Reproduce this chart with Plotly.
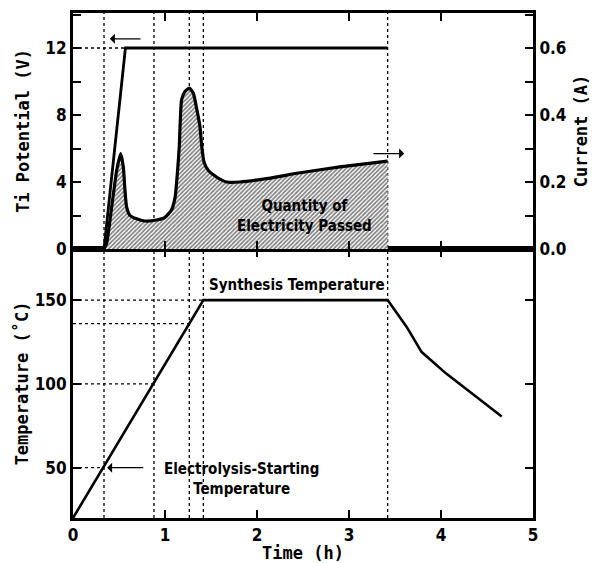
import plotly.graph_objects as go

# Ti electrode potential (V) vs time (h)
pot_time = [0.0, 0.337, 0.57, 3.42]
pot_volt = [0.0, 0.0, 12.0, 12.0]

# Electrolysis current (A) vs time (h)
cur_time = [0.337, 0.366, 0.42, 0.475, 0.518, 0.547, 0.565, 0.583, 0.62, 0.69, 0.78,
            0.91, 1.0, 1.07, 1.11, 1.134, 1.155, 1.18, 1.217, 1.264, 1.308, 1.34,
            1.38, 1.40, 1.424, 1.47, 1.56, 1.67, 1.815, 2.105, 2.47, 2.90, 3.42]
cur_amp = [0.0, 0.017, 0.125, 0.235, 0.285, 0.245, 0.175, 0.125, 0.10, 0.09, 0.0835,
           0.0865, 0.0945, 0.1165, 0.155, 0.225, 0.305, 0.445, 0.47, 0.48, 0.465, 0.425,
           0.365, 0.305, 0.26, 0.235, 0.215, 0.20, 0.20, 0.21, 0.2275, 0.245, 0.2625]

# Bath temperature (deg C) vs time (h)
temp_time = [0.0, 1.417, 3.42, 3.627, 3.79, 4.06, 4.32, 4.66]
temp_c = [20.0, 150.0, 150.0, 134.0, 119.0, 106.0, 95.0, 80.6]

# Characteristic times (h) and the temperatures reached at them
event_times = [0.337, 0.88, 1.264, 1.417, 3.42]
event_temps = [50.0, 100.0, 136.0, 150.0]
event_temp_times = [0.337, 0.88, 1.264, 1.417]
ramp_end_time = 0.57
ramp_end_volt = 12.0

FONT = "DejaVu Sans Condensed, Noto Sans CJK JP, DejaVu Sans"
TITLE_FONT = "DejaVu Sans Mono, Noto Sans CJK JP"

fig = go.Figure()

fig.add_trace(go.Scatter(
    x=cur_time, y=cur_amp, xaxis="x2", yaxis="y3", mode="lines",
    line=dict(color="black", width=3.2, shape="spline", smoothing=0.5),
    fill="tozeroy", fillcolor="rgba(0,0,0,0)",
    fillpattern=dict(shape="/", size=3, solidity=0.55, fgcolor="black", bgcolor="white"),
    showlegend=False, hoverinfo="skip"))

fig.add_trace(go.Scatter(
    x=pot_time, y=pot_volt, xaxis="x2", yaxis="y2", mode="lines",
    line=dict(color="black", width=2.8), showlegend=False))

fig.add_trace(go.Scatter(
    x=temp_time, y=temp_c, xaxis="x", yaxis="y", mode="lines",
    line=dict(color="black", width=2.6), showlegend=False))

shapes = []
for t in event_times:
    shapes.append(dict(type="line", xref="x", yref="paper", x0=t, x1=t, y0=0, y1=1,
                       line=dict(color="black", width=1.3, dash="dot"), layer="below"))
for t, T in zip(event_temp_times, event_temps):
    shapes.append(dict(type="line", xref="x", yref="y", x0=0, x1=t, y0=T, y1=T,
                       line=dict(color="black", width=1.3, dash="dot"), layer="below"))
shapes.append(dict(type="line", xref="x2", yref="y2", x0=0, x1=ramp_end_time,
                   y0=ramp_end_volt, y1=ramp_end_volt,
                   line=dict(color="black", width=1.3, dash="dot"), layer="below"))

text_font = dict(family=FONT, size=15, color="black", weight="bold")
annotations = [
    dict(x=0.40, y=12.55, xref="x2", yref="y2", ax=0.75, ay=12.55, axref="x2", ayref="y2",
         text="", showarrow=True, arrowhead=1, arrowsize=1.3, arrowwidth=1.3, arrowcolor="black"),
    dict(x=3.6, y=5.7, xref="x2", yref="y2", ax=3.25, ay=5.7, axref="x2", ayref="y2",
         text="", showarrow=True, arrowhead=1, arrowsize=1.3, arrowwidth=1.3, arrowcolor="black"),
    dict(x=2.52, y=1.97, xref="x2", yref="y2", text="Quantity of<br>Electricity Passed",
         showarrow=False, font=text_font, align="center"),
    dict(x=2.43, y=159, xref="x", yref="y", text="Synthesis Temperature",
         showarrow=False, font=text_font),
    dict(x=0.37, y=50, xref="x", yref="y", ax=0.78, ay=50, axref="x", ayref="y",
         text="", showarrow=True, arrowhead=1, arrowsize=1.3, arrowwidth=1.3, arrowcolor="black"),
    dict(x=1.83, y=43, xref="x", yref="y", text="Electrolysis-Starting<br>Temperature",
         showarrow=False, font=text_font, align="center"),
]

tick_font = dict(family=FONT, size=17, color="black", weight="bold")
title_font = dict(family=TITLE_FONT, size=17, color="black", weight="bold")
axis_common = dict(showline=True, linecolor="black", linewidth=3, ticks="inside",
                   ticklen=8, tickwidth=1.5, tickcolor="black", showgrid=False,
                   zeroline=False, tickfont=tick_font, automargin=False)

split = 269 / 505

fig.update_layout(
    width=593, height=563,
    margin=dict(l=73, r=60, t=13, b=45),
    paper_bgcolor="white", plot_bgcolor="white",
    shapes=shapes, annotations=annotations,
    xaxis=dict(domain=[0, 1], anchor="y", range=[0, 5], dtick=1, tick0=0, mirror="ticks",
               title=dict(text="Time (h)", font=title_font, standoff=4), **axis_common),
    xaxis2=dict(domain=[0, 1], anchor="y2", range=[0, 5], dtick=1, tick0=0, mirror="ticks",
                matches="x", showticklabels=False, **axis_common),
    yaxis=dict(domain=[0, split], anchor="x", range=[20, 180.5], dtick=50, tick0=0,
               mirror="ticks",
               title=dict(text="Temperature (˚C)", font=title_font, standoff=2),
               **axis_common),
    yaxis2=dict(domain=[split, 1], anchor="x2", range=[0, 14.09], dtick=4, tick0=0,
                mirror=True, minor=dict(ticks="inside", dtick=2, ticklen=8, tickwidth=1.5,
                                        tickcolor="black"),
                title=dict(text="Ti Potential (V)", font=title_font, standoff=12),
                **axis_common),
    yaxis3=dict(anchor="x2", overlaying="y2", side="right", range=[0, 0.7045], dtick=0.2,
                tick0=0, tickformat=".1f",
                minor=dict(ticks="inside", dtick=0.1, ticklen=8, tickwidth=1.5,
                           tickcolor="black"),
                title=dict(text="Current (A)", font=title_font, standoff=10),
                **axis_common),
)

fig.write_html("out.html")
